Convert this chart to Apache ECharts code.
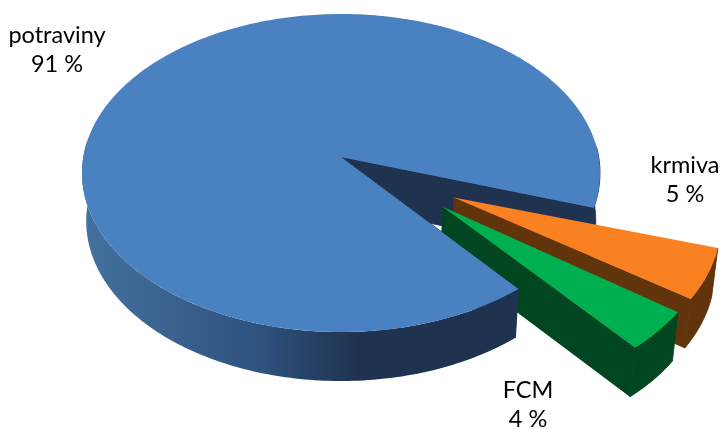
<!DOCTYPE html>
<html>
<head>
<meta charset="utf-8">
<style>html,body{margin:0;padding:0;background:#fff}#c{width:722px;height:429px}</style>
<script src="https://cdn.jsdelivr.net/npm/echarts@6/dist/echarts.min.js"></script>
</head>
<body>
<div id="c"></div>
<script>
var categories = ['potraviny', 'krmiva', 'FCM'];
var shares = [91, 5, 4];

var topColors = ['#4A81C1', '#F98122', '#00B050'];
var wallColors = ['#1F3350', '#62340B', '#004620'];
var labelPos = [[57, 50], [685, 180], [528, 405]];
var explodeDist = [0, 0.495, 0.49];
var explodeDir = [0, 30.5, 38.7];
var sliceTurn = [0, -1, 0];
var START = 50.6;
var K = 0.1007;
var TOP = {x0: 341, y0: 157, a: 257.7, b: 157.4};
var BOT = {x0: 341, y0: 205, a: 253.5, b: 158.3};
var rad = Math.PI / 180;

function project(p, u, v) {
  var w = 1 - K * v;
  return [p.x0 + p.a * u / w, p.y0 + p.b * v / w];
}
function arc(p, o, a0, a1) {
  var pts = [], n = Math.max(2, Math.ceil(Math.abs(a1 - a0)));
  for (var i = 0; i <= n; i++) {
    var t = (a0 + (a1 - a0) * i / n) * rad;
    pts.push(project(p, o[0] + Math.cos(t), o[1] + Math.sin(t)));
  }
  return pts;
}
function poly(points, fill, z2, seam) {
  var style = {fill: fill};
  if (seam) { style.stroke = seam; style.lineWidth = 0.8; style.lineJoin = 'round'; }
  return {type: 'polygon', z2: z2, shape: {points: points}, style: style, silent: true};
}
var total = shares.reduce(function (a, b) { return a + b; }, 0);
var startAngles = [];
shares.reduce(function (acc, s) { startAngles.push(acc); return acc + s / total * 360; }, START);

function renderSlice(params, api) {
  var i = params.dataIndex;
  var s = api.value(1);
  var a0 = startAngles[i] + sliceTurn[i], a1 = a0 + s / total * 360;
  var o = [explodeDist[i] * Math.cos(explodeDir[i] * rad), explodeDist[i] * Math.sin(explodeDir[i] * rad)];
  var aTop = project(TOP, o[0], o[1]), aBot = project(BOT, o[0], o[1]);
  var face = [aTop].concat(arc(TOP, o, a0, a1));
  var base = i * 2;
  var kids = [];
  if (i === 0) {
    var endT = arc(TOP, o, a1 - 22, a1), endB = arc(BOT, o, a1 - 22, a1);
    // back walls, behind the exploded slices
    kids.push(poly(endT.concat(endB.slice().reverse()), wallColors[0], 0, wallColors[0]));
    kids.push(poly([aTop, endT[endT.length - 1], endB[endB.length - 1], aBot], wallColors[0], 0, wallColors[0]));
    // front outer wall
    var frT = arc(TOP, o, a0, 186), frB = arc(BOT, o, a0, 186);
    kids.push(poly(frT.concat(frB.slice().reverse()), new echarts.graphic.LinearGradient(0, 0, 1, 0, [
      {offset: 0, color: '#44719F'},
      {offset: 0.4, color: '#2F5380'},
      {offset: 0.63, color: wallColors[0]},
      {offset: 1, color: wallColors[0]}
    ]), 10));
    // wall on the near cut edge
    kids.push(poly([aTop, frT[0], frB[0], aBot], wallColors[0], 10, wallColors[0]));
    kids.push(poly(face, topColors[0], 12));
  } else {
    var t = arc(TOP, o, a0, a1), b = arc(BOT, o, a0, a1);
    kids.push(poly(t.concat(b.slice().reverse()), wallColors[i], base, wallColors[i]));
    kids.push(poly([aTop, t[t.length - 1], b[b.length - 1], aBot], wallColors[i], base, wallColors[i]));
    kids.push(poly(face, topColors[i], base + 1));
  }
  kids.push({
    type: 'text', z2: 20, silent: true,
    style: {
      text: api.value(0) + '\n' + s + ' %',
      x: labelPos[i][0], y: labelPos[i][1],
      align: 'center', verticalAlign: 'middle',
      fontFamily: 'Lato', fontSize: 23.5, lineHeight: 29, fill: '#000'
    }
  });
  return {type: 'group', children: kids};
}

var chart = echarts.init(document.getElementById('c'), null, {renderer: 'canvas'});
chart.setOption({
  animation: false,
  backgroundColor: '#fff',
  series: [{
    type: 'custom',
    coordinateSystem: 'none',
    renderItem: renderSlice,
    data: categories.map(function (c, i) { return [c, shares[i]]; })
  }]
});
</script>
</body>
</html>
